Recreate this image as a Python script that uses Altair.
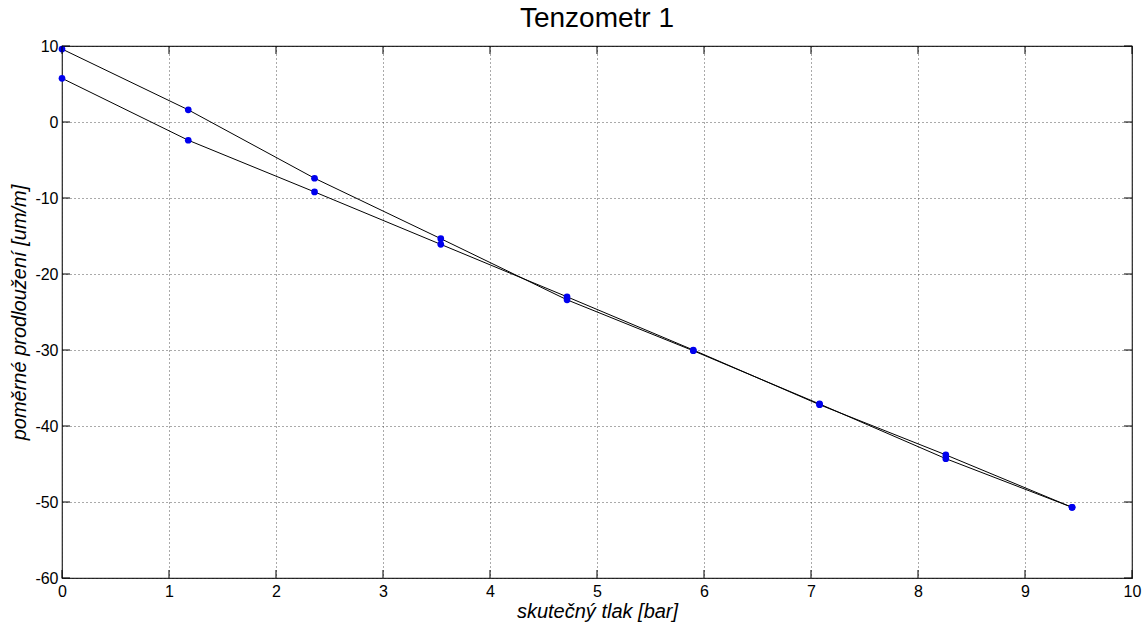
import altair as alt
import pandas as pd

# pressure steps [bar]
pressure = [0.0, 1.18, 2.36, 3.54, 4.72, 5.90, 7.08, 8.26, 9.44]
# relative elongation [um/m], two measurement passes
strain_a = [9.6, 1.6, -7.4, -15.35, -23.4, -30.1, -37.1, -44.3, -50.7]
strain_b = [5.75, -2.4, -9.2, -16.1, -23.0, -30.0, -37.2, -43.8, -50.7]

x_ticks = list(range(0, 11))
y_ticks = list(range(-60, 11, 10))

W, H = 1070, 532
FONT = "Liberation Sans"
PLAIN_LABEL = "'' + datum.value"

rows = []
for p, a in zip(pressure, strain_a):
    rows.append({"p": p, "s": a, "run": "A"})
for p, b in zip(pressure, strain_b):
    rows.append({"p": p, "s": b, "run": "B"})
df = pd.DataFrame(rows)

xs = alt.Scale(domain=[0, 10], nice=False, zero=False)
ys = alt.Scale(domain=[-60, 10], nice=False, zero=False)

common = dict(grid=True, gridDash=[1, 3], gridColor="#444444", gridOpacity=0.9,
              ticks=False, labelFontSize=16, labelFont=FONT, titleFont=FONT,
              titleFontSize=20, titleFontStyle="italic", titleFontWeight="normal",
              domain=False, labelColor="black", titleColor="black",
              labelFlush=False, labelExpr=PLAIN_LABEL)

x_axis = alt.Axis(values=x_ticks, title="skutečný tlak [bar]",
                  labelPadding=5, titlePadding=2, **common)
y_axis = alt.Axis(values=y_ticks, title="poměrné prodloužení [um/m]",
                  labelPadding=4, titlePadding=5, **common)

base = alt.Chart(df)

lines = base.mark_line(color="black", strokeWidth=1).encode(
    x=alt.X("p:Q", scale=xs, axis=x_axis),
    y=alt.Y("s:Q", scale=ys, axis=y_axis),
    detail="run:N",
    order="p:Q",
)
points = base.mark_circle(color="#0000ee", size=45, opacity=1).encode(
    x=alt.X("p:Q", scale=xs),
    y=alt.Y("s:Q", scale=ys),
)

# inward tick marks on all four sides
xt = pd.DataFrame({"t": x_ticks})
yt = pd.DataFrame({"t": y_ticks})
TL = 8
xt_bottom = alt.Chart(xt).mark_rule(color="black", strokeWidth=1).encode(
    x=alt.X("t:Q", scale=xs), y=alt.value(H), y2=alt.value(H - TL))
xt_top = alt.Chart(xt).mark_rule(color="black", strokeWidth=1).encode(
    x=alt.X("t:Q", scale=xs), y=alt.value(0), y2=alt.value(TL))
yt_left = alt.Chart(yt).mark_rule(color="black", strokeWidth=1).encode(
    y=alt.Y("t:Q", scale=ys), x=alt.value(0), x2=alt.value(TL))
yt_right = alt.Chart(yt).mark_rule(color="black", strokeWidth=1).encode(
    y=alt.Y("t:Q", scale=ys), x=alt.value(W), x2=alt.value(W - TL))

chart = alt.layer(lines, points, xt_bottom, xt_top, yt_left, yt_right).properties(
    width=W, height=H,
    title=alt.Title("Tenzometr 1", font=FONT, fontSize=28, fontWeight="normal",
                    color="black", anchor="middle", offset=5),
    autosize="none",
    padding={"left": 62, "top": 46, "right": 12, "bottom": 45},
    background="white",
).configure_view(stroke="#222222", strokeWidth=1.2)

chart.save("out.html", embed_options={"renderer": "svg", "actions": False})
